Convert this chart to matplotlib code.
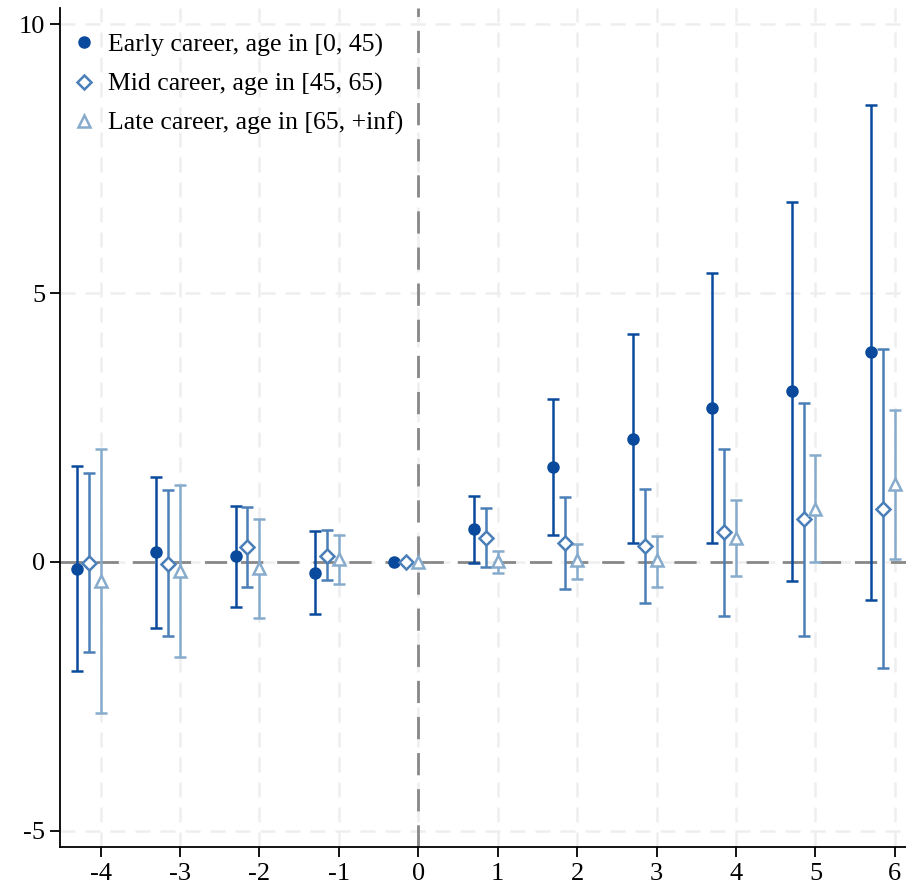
import matplotlib.pyplot as plt
import numpy as np

# Event time
periods = [-4, -3, -2, -1, 0, 1, 2, 3, 4, 5, 6]

# Early career, age in [0, 45)
early_est = [-0.13, 0.18, 0.11, -0.20, 0.0, 0.61, 1.76, 2.29, 2.87, 3.17, 3.90]
early_lo = [-2.03, -1.23, -0.83, -0.97, 0.0, -0.02, 0.50, 0.36, 0.36, -0.36, -0.70]
early_hi = [1.79, 1.58, 1.04, 0.58, 0.0, 1.23, 3.03, 4.24, 5.38, 6.70, 8.50]

# Mid career, age in [45, 65)
mid_est = [-0.02, -0.04, 0.28, 0.12, 0.0, 0.45, 0.36, 0.29, 0.55, 0.79, 0.99]
mid_lo = [-1.67, -1.37, -0.47, -0.34, 0.0, -0.09, -0.51, -0.76, -1.00, -1.37, -1.98]
mid_hi = [1.66, 1.33, 1.03, 0.59, 0.0, 1.01, 1.21, 1.36, 2.10, 2.95, 3.96]

# Late career, age in [65, +inf)
late_est = [-0.35, -0.16, -0.11, 0.06, 0.0, 0.02, 0.03, 0.03, 0.45, 0.99, 1.45]
late_lo = [-2.81, -1.76, -1.05, -0.41, 0.0, -0.20, -0.32, -0.46, -0.27, 0.00, 0.05]
late_hi = [2.10, 1.43, 0.80, 0.50, 0.0, 0.21, 0.34, 0.49, 1.15, 1.98, 2.82]

labels = ["Early career, age in [0, 45)",
          "Mid career, age in [45, 65)",
          "Late career, age in [65, +inf)"]
colors = ["#0a4a9c", "#4a7fb8", "#87abcc"]
markers = ["o", "D", "^"]
offsets = [-0.3, -0.15, 0.0]

plt.rcParams['font.family'] = ['Liberation Serif', 'DejaVu Serif']
plt.rcParams['axes.unicode_minus'] = False

fig = plt.figure(figsize=(9.06, 8.86), dpi=100)
ax = fig.add_axes([60 / 906, 39 / 886, 1 - 60 / 906, (886 - 39 - 8) / 886])

x = np.array(periods, dtype=float)
series = [(early_est, early_lo, early_hi),
          (mid_est, mid_lo, mid_hi),
          (late_est, late_lo, late_hi)]

# reference lines
ax.axhline(0, color="#888888", lw=2, ls=(0, (8, 5)), zorder=1)
ax.axvline(0, color="#888888", lw=2, ls=(0, (8, 5)), zorder=1)

for (est, lo, hi), lab, c, m, off in zip(series, labels, colors, markers, offsets):
    est = np.array(est)
    err = np.vstack([est - np.array(lo), np.array(hi) - est])
    has_ci = err.sum(axis=0) > 0
    ax.errorbar(x[has_ci] + off, est[has_ci], yerr=err[:, has_ci], fmt="none",
                ecolor=c, elinewidth=1.8, capsize=4, capthick=1.8, zorder=3)
    if m == "o":
        ax.plot(x + off, est, ls="none", marker=m, ms=8, color=c,
                mec=c, zorder=4, label=lab)
    else:
        ax.plot(x + off, est, ls="none", marker=m, ms=7 if m == "D" else 8,
                mfc="white", mec=c, mew=1.8, color=c, zorder=4, label=lab)

ax.set_xlim(-4.51, 6.14)
ax.set_ylim(-5.3, 10.3)
ax.set_xticks(periods)
ax.set_xticklabels([str(p) for p in periods])
ax.set_yticks([-5, 0, 5, 10])

ax.grid(True, color="#eeeeee", lw=1.8, ls=(0, (6, 4)), zorder=0)
ax.set_axisbelow(True)

for side in ["top", "right"]:
    ax.spines[side].set_visible(False)
ax.spines["left"].set_linewidth(1.3)
ax.spines["bottom"].set_linewidth(1.3)
ax.tick_params(axis="both", labelsize=19, length=7.5, width=1.3, direction="out")
ax.tick_params(axis="y", pad=3)
ax.tick_params(axis="x", pad=4)

ax.legend(loc="upper left", frameon=False, fontsize=18.5, handletextpad=0.35,
          labelspacing=0.62, borderaxespad=0.0, bbox_to_anchor=(0.0, 0.982),
          handlelength=1.1)

fig.savefig("out.png", dpi=100)
